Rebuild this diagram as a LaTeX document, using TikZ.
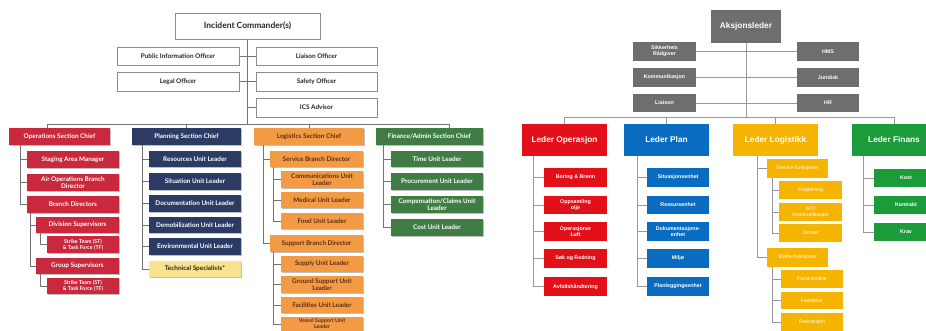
\documentclass[tikz,border=0pt]{standalone}
\usepackage{fontspec}
\setmainfont{Liberation Sans}
\newfontfamily\icsfont{Lato}
\usetikzlibrary{shadows}

% left chart palette
\definecolor{opsL}{HTML}{C9283D}
\definecolor{planL}{HTML}{2C3B63}
\definecolor{logL}{HTML}{F39A45}
\definecolor{logTxt}{HTML}{5C2E12}
\definecolor{finL}{HTML}{3F7D45}
\definecolor{techL}{HTML}{FBE28C}
% right chart palette
\definecolor{grayR}{HTML}{6E6E6E}
\definecolor{opsR}{HTML}{E3101A}
\definecolor{planR}{HTML}{0A6CC0}
\definecolor{logR}{HTML}{F4B400}
\definecolor{finR}{HTML}{1B9B3A}

\tikzset{
  conn/.style={draw=black!55, line width=0.8pt},
  connR/.style={draw=black!40, line width=0.8pt},
  lbox/.style={font=\icsfont\bfseries\fontsize{6.4}{7}\selectfont, align=center,
    inner sep=0pt, outer sep=0pt,
    drop shadow={shadow xshift=1.3pt, shadow yshift=-1.3pt, fill=black!50}},
  lbig/.style={font=\icsfont\bfseries\fontsize{8.5}{9.5}\selectfont},
  lsmall/.style={font=\icsfont\bfseries\fontsize{5.3}{6}\selectfont},
  wbox/.style={lbox, fill=white, draw=black!45, line width=0.5pt, text=black!85},
  redL/.style={lbox, fill=opsL, text=white},
  navyL/.style={lbox, fill=planL, text=white},
  orgL/.style={lbox, fill=logL, text=logTxt},
  grnL/.style={lbox, fill=finL, text=white},
  techbox/.style={lbox, fill=techL, text=black!85},
  rbox/.style={font=\bfseries\fontsize{5.3}{6}\selectfont, align=center,
    inner sep=0pt, outer sep=0pt, text=white},
  rbig/.style={font=\bfseries\fontsize{8.3}{9.5}\selectfont},
  grayBox/.style={rbox, fill=grayR},
  opsBox/.style={rbox, fill=opsR},
  planBox/.style={rbox, fill=planR},
  logBox/.style={rbox, fill=logR, font=\fontsize{5.1}{5.9}\selectfont},
  finBox/.style={rbox, fill=finR},
}

% box from its corners: name, style, x1, y1, x2, y2, text
\newcommand\bx[7]{%
  \node[#2, minimum width={(#5)-(#3)}, minimum height={(#6)-(#4)}]
    (#1) at ({((#3)+(#5))/2},{((#4)+(#6))/2}) {#7};}

\begin{document}
\begin{tikzpicture}[x=1pt, y=-1pt]
\useasboundingbox (0,0) rectangle (926,331);
\fill[white] (0,0) rectangle (926,331);
\clip (0,0) rectangle (926,331);

% ================= ICS organisation =================
\bx{ic}{wbox,lbig}{175}{13}{320}{39}{Incident Commander(s)}
\bx{pio}{wbox}{117}{47}{239}{65}{Public Information Officer}
\bx{lgl}{wbox}{117}{72}{239}{91}{Legal Officer}
\bx{lia}{wbox}{256}{47}{377}{65}{Liaison Officer}
\bx{saf}{wbox}{256}{72}{377}{91}{Safety Officer}
\bx{ics}{wbox}{256}{98}{377}{117}{ICS Advisor}

\bx{osc}{redL}{9}{128}{110}{145}{Operations Section Chief}
\bx{psc}{navyL}{132}{128}{241}{145}{Planning Section Chief}
\bx{lsc}{orgL}{254}{128}{364}{145}{Logistics Section Chief}
\bx{fsc}{grnL}{376}{128}{483}{145}{Finance/Admin Section Chief}

\bx{sam}{redL}{27}{151}{119}{168}{Staging Area Manager}
\bx{aob}{redL}{27}{174}{119}{191}{Air Operations Branch\\Director}
\bx{bd}{redL}{27}{196}{119}{213}{Branch Directors}
\bx{ds}{redL}{36}{217}{119}{233}{Division Supervisors}
\bx{st1}{redL,lsmall}{47}{236}{119}{253}{Strike Team (ST)\\\& Task Force (TF)}
\bx{gs}{redL}{36}{258}{119}{274}{Group Supervisors}
\bx{st2}{redL,lsmall}{47}{278}{119}{294}{Strike Team (ST)\\\& Task Force (TF)}

\bx{rul}{navyL}{149}{151}{241}{167}{Resources Unit Leader}
\bx{sul}{navyL}{149}{173}{241}{190}{Situation Unit Leader}
\bx{dul}{navyL}{149}{195}{241}{212}{Documentation Unit Leader}
\bx{dmu}{navyL}{149}{217}{241}{233}{Demobilization Unit Leader}
\bx{eul}{navyL}{149}{238}{241}{255}{Environmental Unit Leader}
\bx{tsp}{techbox}{149}{261}{241}{277}{Technical Specialists*}

\bx{sbd}{orgL}{270}{151}{363}{167}{Service Branch Director}
\bx{cul}{orgL}{281}{171}{363}{188}{Communications Unit\\Leader}
\bx{mul}{orgL}{281}{192}{363}{208}{Medical Unit Leader}
\bx{ful}{orgL}{281}{213}{363}{229}{Food Unit Leader}
\bx{spb}{orgL}{270}{235}{363}{252}{Support Branch Director}
\bx{sup}{orgL}{281}{256}{363}{272}{Supply Unit Leader}
\bx{gsu}{orgL}{281}{276}{363}{293}{Ground Support Unit\\Leader}
\bx{fac}{orgL}{281}{297}{363}{313}{Facilities Unit Leader}
\bx{vsu}{orgL,lsmall}{281}{317}{363}{331}{Vessel Support Unit\\Leader}

\bx{tul}{grnL}{391}{151}{483}{167}{Time Unit Leader}
\bx{pul}{grnL}{391}{173}{483}{190}{Procurement Unit Leader}
\bx{ccu}{grnL}{391}{196}{483}{213}{Compensation/Claims Unit\\Leader}
\bx{cst}{grnL}{391}{219}{483}{236}{Cost Unit Leader}

% connectors
\coordinate (barA) at (47,124);
\coordinate (barB) at (449,124);
\coordinate (tO) at (20,0);
\coordinate (tB) at (30,0);
\coordinate (tD) at (40,0);
\coordinate (tP) at (142,0);
\coordinate (tL) at (263,0);
\coordinate (tS) at (273,0);
\coordinate (tF) at (383,0);

\draw[conn] (ic.south) -- (ic.south |- barA);
\draw[conn] (pio.east) -- (lia.west);
\draw[conn] (lgl.east) -- (saf.west);
\draw[conn] (ic.south |- ics.west) -- (ics.west);
\draw[conn] (barA) -- (barB);
\draw[conn] (barA) -- (barA |- osc.north);
\draw[conn] (psc.north |- barA) -- (psc.north);
\draw[conn] (lsc.north |- barA) -- (lsc.north);
\draw[conn] (barB) -- (barB |- fsc.north);

\draw[conn] (tO |- osc.south) -- (tO |- bd.west);
\foreach \c in {sam,aob,bd} \draw[conn] (tO |- \c.west) -- (\c.west);
\draw[conn] (tB |- bd.south) -- (tB |- gs.west);
\foreach \c in {ds,gs} \draw[conn] (tB |- \c.west) -- (\c.west);
\draw[conn] (tD |- ds.south) -- (tD |- st1.west) -- (st1.west);
\draw[conn] (tD |- gs.south) -- (tD |- st2.west) -- (st2.west);

\draw[conn] (tP |- psc.south) -- (tP |- tsp.west);
\foreach \c in {rul,sul,dul,dmu,eul,tsp} \draw[conn] (tP |- \c.west) -- (\c.west);

\draw[conn] (tL |- lsc.south) -- (tL |- spb.west);
\foreach \c in {sbd,spb} \draw[conn] (tL |- \c.west) -- (\c.west);
\draw[conn] (tS |- sbd.south) -- (tS |- ful.west);
\foreach \c in {cul,mul,ful} \draw[conn] (tS |- \c.west) -- (\c.west);
\draw[conn] (tS |- spb.south) -- (tS |- vsu.west);
\foreach \c in {sup,gsu,fac,vsu} \draw[conn] (tS |- \c.west) -- (\c.west);

\draw[conn] (tF |- fsc.south) -- (tF |- cst.west);
\foreach \c in {tul,pul,ccu,cst} \draw[conn] (tF |- \c.west) -- (\c.west);

% ================= Norwegian organisation =================
\coordinate (barC) at (564,117);
\coordinate (barD) at (894,117);
\coordinate (tRO) at (533,0);
\coordinate (tRP) at (637,0);
\coordinate (tRL) at (757,0);
\coordinate (tRS) at (772,0);
\coordinate (tRF) at (863,0);

% staff lines and main bar first, boxes drawn over them
\draw[connR] (746,43) -- (746,117);
\draw[connR] (696,51.5) -- (797,51.5);
\draw[connR] (696,77.5) -- (797,77.5);
\draw[connR] (696,103) -- (797,103);
\draw[connR] (barC) -- (barD);

\bx{aks}{grayBox,rbig}{711}{10}{781}{43}{Aksjonsleder}
\bx{sik}{grayBox}{633}{42}{696}{61}{Sikkerhets\\Rådgiver}
\bx{kom}{grayBox}{633}{68}{696}{87}{Kommunikasjon}
\bx{lio}{grayBox}{633}{94}{696}{112}{Liaison}
\bx{hms}{grayBox}{797}{42}{859}{61}{HMS}
\bx{jur}{grayBox}{797}{68}{859}{87}{Juridisk}
\bx{hr}{grayBox}{797}{94}{859}{112}{HR}

\bx{lop}{opsBox,rbig}{522}{124}{607}{156}{Leder Operasjon}
\bx{lpl}{planBox,rbig}{624}{124}{709}{156}{Leder Plan}
\bx{llo}{logBox,rbig}{733}{124}{818}{156}{Leder Logistikk}
\bx{lfi}{finBox,rbig}{852}{124}{936}{156}{Leder Finans}

\bx{bor}{opsBox}{544}{168}{607}{187}{Boring \& Brønn}
\bx{opp}{opsBox}{544}{196}{607}{214}{Oppsamling\\olje}
\bx{opl}{opsBox}{544}{222}{607}{241}{Operasjoner\\Luft}
\bx{sok}{opsBox}{544}{249}{607}{268}{Søk og Redning}
\bx{avf}{opsBox}{544}{277}{607}{296}{Avfallshåndtering}

\bx{sit}{planBox}{647}{168}{709}{187}{Situasjonsenhet}
\bx{res}{planBox}{647}{196}{709}{214}{Ressursenhet}
\bx{dok}{planBox}{647}{222}{709}{241}{Dokumentasjons-\\enhet}
\bx{mil}{planBox}{647}{249}{709}{268}{Miljø}
\bx{pla}{planBox}{647}{277}{709}{296}{Planleggingsenhet}

\bx{svf}{logBox}{767}{159}{828}{178}{Service-funksjoner}
\bx{for}{logBox}{779}{181}{842}{199}{Forpleining}
\bx{ikt}{logBox}{779}{203}{842}{221}{IKT/\\Kommunikasjon}
\bx{san}{logBox}{779}{224}{842}{242}{Sanitet}
\bx{stf}{logBox}{767}{248}{828}{267}{Støtte-funksjoner}
\bx{far}{logBox}{781}{270}{843}{288}{Fartøyinnleie}
\bx{fas}{logBox}{781}{292}{843}{309}{Fasiliteter}
\bx{rek}{logBox}{781}{313}{843}{331}{Rekvisisjon}

\bx{kos}{finBox}{874}{169}{938}{187}{Kost}
\bx{kon}{finBox}{874}{196}{938}{214}{Kontrakt}
\bx{krv}{finBox}{874}{223}{938}{241}{Krav}

\draw[connR] (lop.north |- barC) -- (lop.north);
\draw[connR] (lpl.north |- barC) -- (lpl.north);
\draw[connR] (llo.north |- barC) -- (llo.north);
\draw[connR] (lfi.north |- barC) -- (lfi.north);

\draw[connR] (tRO |- lop.south) -- (tRO |- avf.west);
\foreach \c in {bor,opp,opl,sok,avf} \draw[connR] (tRO |- \c.west) -- (\c.west);
\draw[connR] (tRP |- lpl.south) -- (tRP |- pla.west);
\foreach \c in {sit,res,dok,mil,pla} \draw[connR] (tRP |- \c.west) -- (\c.west);
\draw[connR] (tRL |- llo.south) -- (tRL |- stf.west);
\foreach \c in {svf,stf} \draw[connR] (tRL |- \c.west) -- (\c.west);
\draw[connR] (tRS |- svf.south) -- (tRS |- san.west);
\foreach \c in {for,ikt,san} \draw[connR] (tRS |- \c.west) -- (\c.west);
\draw[connR] (tRS |- stf.south) -- (tRS |- rek.west);
\foreach \c in {far,fas,rek} \draw[connR] (tRS |- \c.west) -- (\c.west);
\draw[connR] (tRF |- lfi.south) -- (tRF |- krv.west);
\foreach \c in {kos,kon,krv} \draw[connR] (tRF |- \c.west) -- (\c.west);
\end{tikzpicture}
\end{document}
